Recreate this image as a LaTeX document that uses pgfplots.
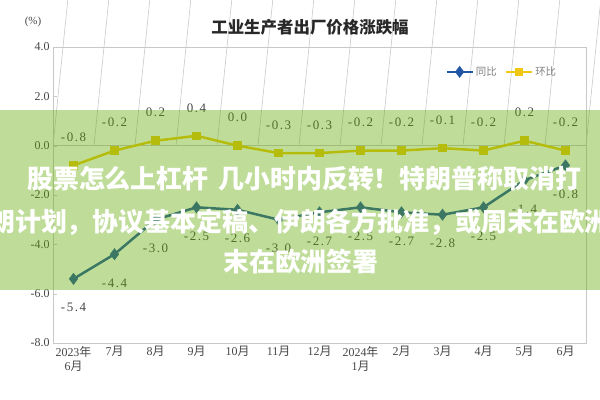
\documentclass[border=0pt]{standalone}
\usepackage{fontspec}
\setmainfont{Liberation Serif}
\newfontfamily\cjk{Noto Sans CJK SC}
\newfontfamily\lab{Liberation Serif}[LetterSpace=12]
\usepackage{pgfplots}
\pgfplotsset{compat=1.18}
\usepackage{pgfplotstable}
\definecolor{yoy}{RGB}{35,85,165}
\definecolor{mom}{RGB}{240,200,20}
\definecolor{band}{RGB}{95,170,0}
\definecolor{axgray}{RGB}{200,200,200}
\definecolor{txt}{RGB}{70,70,70}
\newcommand{\zh}[1]{{\cjk #1}}
\pgfplotstableread{
x yoy ylab mom mlab
0 -5.4 -5.4 -0.8 -0.8
1 -4.4 -4.4 -0.2 -0.2
2 -3.0 -3.0 0.2 0.2
3 -2.5 -2.5 0.4 0.4
4 -2.6 -2.6 0.0 0.0
5 -3.0 -3.0 -0.3 -0.3
6 -2.7 -2.7 -0.3 -0.3
7 -2.5 -2.5 -0.2 -0.2
8 -2.7 -2.7 -0.2 -0.2
9 -2.8 -2.8 -0.1 -0.1
10 -2.5 -2.5 -0.2 -0.2
11 -1.4 -1.4 0.2 0.2
12 -0.8 -0.8 -0.2 -0.2
}\data
\begin{document}
\begin{tikzpicture}
\path[use as bounding box] (0,0) rectangle (600bp,400bp);
\begin{axis}[
  at={(53bp,57bp)}, anchor=south west, scale only axis,
  width=533bp, height=296bp,
  xmin=-0.5, xmax=12.5, ymin=-8, ymax=4,
  xtick={0,...,12},
  xticklabels={{2023\zh{年}\\6\zh{月}},7\zh{月},8\zh{月},9\zh{月},10\zh{月},11\zh{月},12\zh{月},{2024\zh{年}\\1\zh{月}},2\zh{月},3\zh{月},4\zh{月},5\zh{月},6\zh{月}},
  ytick={-8,-6,-4,-2,0,2,4},
  yticklabels={-8.0,-6.0,-4.0,-2.0,0.0,2.0,4.0},
  axis line style={axgray, line width=0.8bp},
  tick align=inside, major tick length=4bp,
  ytick pos=left, xtick style={draw=none}, ytick style={axgray},
  xticklabel style={font=\fontsize{12}{14}\selectfont, align=center, text=txt},
  yticklabel style={font=\fontsize{12}{12}\selectfont, text=txt},
  clip=false,
  legend columns=2,
  legend style={at={(0.842,0.916)}, anchor=center, draw=none, fill=none,
    font=\cjk\fontsize{10.5}{10.5}\selectfont, text=gray,
    /tikz/every even column/.append style={column sep=6bp}},
  legend image code/.code={\draw[#1] (0bp,0bp) -- (13bp,0bp) plot coordinates {(13bp,0bp)} -- (26bp,0bp);},
]
\draw[axgray, line width=0.8bp] (axis cs:-0.5,0) -- (axis cs:12.5,0);
\pgfplotsinvokeforeach{0,...,13}{\draw[axgray, line width=0.6bp] (axis cs:#1-0.5,0) -- ++(0,5bp);}
\addplot[color=yoy, line width=2.5bp, mark=diamond*, mark size=4bp,
  nodes near coords, point meta=explicit symbolic,
  nodes near coords style={font=\lab\fontsize{13}{13}\selectfont, text=txt, anchor=north, yshift=-20bp}]
  table[x=x, y=yoy, meta=ylab] {\data};
\addlegendentry{同比}
\addplot[color=mom, line width=2.5bp, mark=square*, mark size=3bp,
  nodes near coords, point meta=explicit symbolic,
  nodes near coords style={font=\lab\fontsize{13}{13}\selectfont, text=txt, anchor=south, yshift=19bp}]
  table[x=x, y=mom, meta=mlab] {\data};
\addlegendentry{环比}
\end{axis}
\node[font=\cjk\bfseries\fontsize{16.5}{16.5}\selectfont, text={rgb,255:red,40;green,40;blue,40}] at (310bp,373bp) {工业生产者出厂价格涨跌幅};
\node[font=\fontsize{11}{11}\selectfont, text=txt] at (33bp,378bp) {(\%)};
\fill[band, opacity=0.4] (0,110bp) rectangle (600bp,290bp);
\node[anchor=west, text=white, font=\cjk\bfseries\fontsize{26}{26}\selectfont, inner sep=0] at (27bp,221bp) {股票怎么上杠杆\hspace{10bp}几小时内反转！特朗普称取消打};
\node[anchor=west, text=white, font=\cjk\bfseries\fontsize{26}{26}\selectfont, inner sep=0] at (-11bp,178bp) {朗计划，协议基本定稿、伊朗各方批准，或周末在欧洲};
\node[anchor=west, text=white, font=\cjk\bfseries\fontsize{26}{26}\selectfont, inner sep=0] at (223bp,138bp) {末在欧洲签署};
\end{tikzpicture}
\end{document}
